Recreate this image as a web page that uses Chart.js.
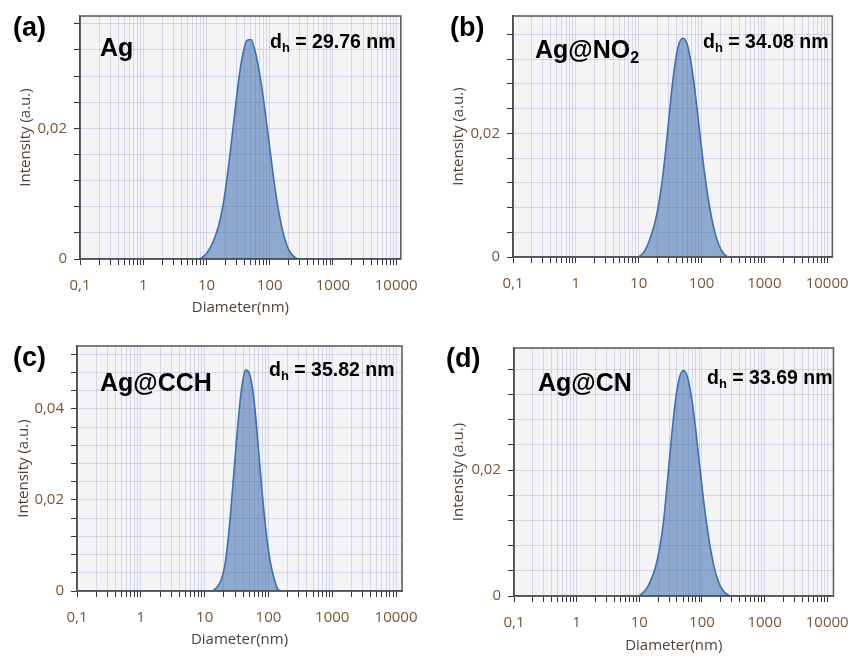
<!DOCTYPE html>
<html><head><meta charset="utf-8">
<script src="https://cdn.jsdelivr.net/npm/chart.js@4.4.0/dist/chart.umd.min.js"></script>
<style>
html,body{margin:0;padding:0;background:#fff;}
#wrap{position:relative;width:861px;height:657px;overflow:hidden;}
canvas{position:absolute;}
.lbl{position:absolute;font-family:"Liberation Sans",Arial,sans-serif;font-weight:bold;color:#000;line-height:1;white-space:nowrap;}
.pl{font-size:27px;}
.nm{font-size:25px;}
.nm sub{font-size:16px;vertical-align:-5px;line-height:0;}
.dh{font-size:19.5px;}
.dh sub{font-size:13px;vertical-align:-4px;line-height:0;}
</style></head>
<body>
<div id="wrap">
<canvas id="ca" width="430" height="330" style="left:0;top:0"></canvas>
<canvas id="cb" width="431" height="330" style="left:430px;top:0"></canvas>
<canvas id="cc" width="430" height="327" style="left:0;top:330px"></canvas>
<canvas id="cd" width="431" height="327" style="left:430px;top:330px"></canvas>

<div class="lbl pl" style="left:13px;top:14px">(a)</div>
<div class="lbl nm" style="left:100px;top:35px">Ag</div>
<div class="lbl dh" style="left:270px;top:32px">d<sub>h</sub> = 29.76 nm</div>

<div class="lbl pl" style="left:450px;top:14px">(b)</div>
<div class="lbl nm" style="left:535px;top:37px">Ag@NO<sub>2</sub></div>
<div class="lbl dh" style="left:703px;top:32px">d<sub>h</sub> = 34.08 nm</div>

<div class="lbl pl" style="left:13px;top:344px">(c)</div>
<div class="lbl nm" style="left:100px;top:370px">Ag@CCH</div>
<div class="lbl dh" style="left:269px;top:360px">d<sub>h</sub> = 35.82 nm</div>

<div class="lbl pl" style="left:446px;top:345px">(d)</div>
<div class="lbl nm" style="left:538px;top:370px">Ag@CN</div>
<div class="lbl dh" style="left:707px;top:368px">d<sub>h</sub> = 33.69 nm</div>
</div>
<script>
// ---- data ----
const diameterBins = [0.1, 7.531, 8.721, 10.10, 11.70, 13.54, 15.69, 18.17, 21.04, 24.36, 28.21, 32.67, 37.84, 43.82, 50.75, 58.77, 68.06, 78.82, 91.28, 105.7, 122.4, 141.8, 164.2, 190.1, 220.2, 255.0, 295.3, 341.9, 10000];
const intensityAg    = [0, 0, 0.0003, 0.0009, 0.0019, 0.0033, 0.0052, 0.0081, 0.0122, 0.0172, 0.0226, 0.0277, 0.0315, 0.0335, 0.0336, 0.0318, 0.0288, 0.0248, 0.0201, 0.0152, 0.0106, 0.0068, 0.0039, 0.0019, 0.0008, 0.0002, 0, 0, 0];
const intensityAgNO2 = [0, 0, 0, 0.0001, 0.0006, 0.0017, 0.0034, 0.0056, 0.0088, 0.0133, 0.0192, 0.0258, 0.0312, 0.0345, 0.0354, 0.0345, 0.0315, 0.0268, 0.0212, 0.0156, 0.0107, 0.0068, 0.0039, 0.0019, 0.0007, 0.0001, 0, 0, 0];
const intensityAgCCH = [0, 0, 0, 0, 0, 0.0001, 0.0009, 0.0024, 0.0061, 0.0139, 0.0246, 0.0355, 0.0443, 0.0485, 0.0476, 0.0425, 0.0330, 0.0224, 0.0134, 0.0068, 0.0028, 0.0003, 0, 0, 0, 0, 0, 0, 0];
const intensityAgCN  = [0, 0, 0, 0.0001, 0.0006, 0.0014, 0.0028, 0.0046, 0.0075, 0.0118, 0.0183, 0.0252, 0.0311, 0.0347, 0.0358, 0.0348, 0.0316, 0.0268, 0.0210, 0.0154, 0.0106, 0.0067, 0.0038, 0.0019, 0.0008, 0.0002, 0, 0, 0];
const xMajorTicks = [0.1, 1, 10, 100, 1000, 10000];
const xTickLabels = ['0,1', '1', '10', '100', '1000', '10000'];
const yMajorTicks = [0, 0.02, 0.04];
const yTickLabels = ['0', '0,02', '0,04'];
const yMinorStep = 0.004;
const xTitle = 'Diameter(nm)';
const yTitle = 'Intensity (a.u.)';

const TICK_COLOR = '#7a5534';
const TITLE_COLOR = '#4e4036';
const FONT = '"Open Sans", "Segoe UI", sans-serif';
const GRID = 'rgba(150,150,215,0.32)';

const framePlugin = {
  id: 'frame',
  beforeDraw(chart) {
    const {ctx, chartArea: a} = chart;
    ctx.save(); ctx.fillStyle = '#f4f4f5';
    ctx.fillRect(a.left, a.top, a.right - a.left, a.bottom - a.top); ctx.restore();
  },
  afterDraw(chart) {
    const {ctx, chartArea: a} = chart;
    ctx.save(); ctx.strokeStyle = '#555'; ctx.lineWidth = 1.5;
    ctx.strokeRect(a.left, a.top, a.right - a.left, a.bottom - a.top); ctx.restore();
  }
};

function match(v, list) { return list.findIndex(m => Math.abs(v - m) < 1e-9 * Math.max(1, m)); }

function makePanel(p) {
  const pts = diameterBins.map((d, i) => ({x: d, y: p.values[i]}));
  new Chart(document.getElementById(p.id), {
    type: 'line',
    data: {datasets: [{data: pts, borderColor: '#3a6fb1', borderWidth: 1.6,
      backgroundColor: 'rgba(58,108,172,0.55)', fill: 'origin', pointRadius: 0,
      cubicInterpolationMode: 'monotone'}]},
    options: {
      responsive: false, animation: false, events: [],
      layout: {padding: {top: p.padTop, right: p.padRight, left: 0, bottom: 0}},
      plugins: {legend: {display: false}, tooltip: {enabled: false}},
      scales: {
        x: {
          type: 'logarithmic', min: 0.1, max: p.xMax, offset: false,
          afterBuildTicks(s) {
            const t = [];
            for (let k = 0; k < xMajorTicks.length - 1; k++)
              for (let m = 1; m <= 9; m++) t.push({value: xMajorTicks[k] * m});
            t.push({value: xMajorTicks[xMajorTicks.length - 1]});
            s.ticks = t;
          },
          afterFit(s) { s.height = p.xH; },
          ticks: {autoSkip: false, maxRotation: 0, color: TICK_COLOR, padding: 12,
            font: {family: FONT, size: 15},
            callback(v) { const i = match(v, xMajorTicks); return i >= 0 ? xTickLabels[i] : ''; }},
          grid: {color: GRID, lineWidth: 1, tickLength: 6, tickColor: '#333'},
          border: {color: '#333', width: 1.5},
          title: {display: p.showX, text: xTitle, color: TITLE_COLOR,
            font: {family: FONT, size: 15}, padding: {top: 0, bottom: p.xTitlePad}}
        },
        y: {
          type: 'linear', min: 0, max: p.yMax,
          afterBuildTicks(s) {
            const t = [];
            for (let i = 0; i * yMinorStep <= p.yMax + 1e-12; i++) t.push({value: +(i * yMinorStep).toFixed(4)});
            s.ticks = t;
          },
          afterFit(s) { s.width = p.yW; },
          ticks: {autoSkip: false, color: TICK_COLOR, padding: 7, font: {family: FONT, size: 15},
            callback(v) { const i = match(v, yMajorTicks); return i >= 0 ? yTickLabels[i] : ''; }},
          grid: {color: GRID, lineWidth: 1, tickLength: 6, tickColor: '#333'},
          border: {color: '#333', width: 1.5},
          title: {display: true, text: yTitle, color: TITLE_COLOR,
            font: {family: FONT, size: 15}, padding: {top: p.yTitlePad, bottom: 0}}
        }
      }
    },
    plugins: [framePlugin]
  });
}

makePanel({id: 'ca', values: intensityAg,    yMax: 0.0372, xMax: 11860, padTop: 15, padRight: 27, yW: 80, xH: 71, yTitlePad: 17, showX: true, xTitlePad: 13});
makePanel({id: 'cb', values: intensityAgNO2, yMax: 0.0390, xMax: 12100, padTop: 13, padRight: 25, yW: 83, xH: 73, yTitlePad: 20, showX: false, xTitlePad: 0});
makePanel({id: 'cc', values: intensityAgCCH, yMax: 0.0538, xMax: 12400, padTop: 15, padRight: 27, yW: 77, xH: 66, yTitlePad: 15, showX: true, xTitlePad: 8.5});
makePanel({id: 'cd', values: intensityAgCN,  yMax: 0.0394, xMax: 12600, padTop: 18, padRight: 18, yW: 84, xH: 61, yTitlePad: 20, showX: true, xTitlePad: 2.3});
</script>
</body></html>
